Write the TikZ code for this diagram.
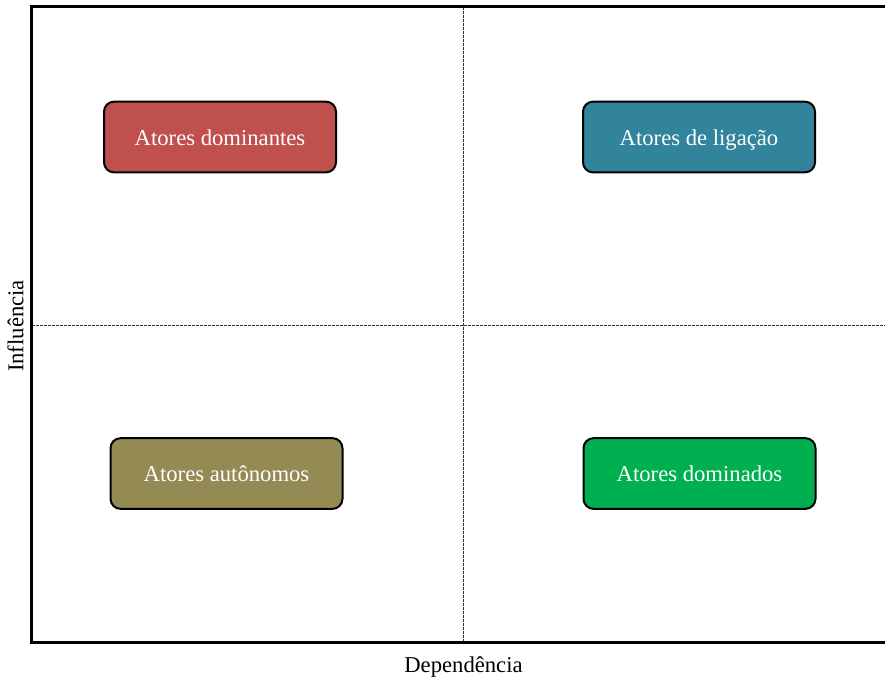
\documentclass[tikz,border=0pt]{standalone}
\usepackage{fontspec}
\setmainfont{Liberation Serif}

\definecolor{corDominantes}{HTML}{C0504D}
\definecolor{corLigacao}{HTML}{31849B}
\definecolor{corAutonomos}{HTML}{948A54}
\definecolor{corDominados}{HTML}{00B050}

\tikzset{every picture/.style={line width=0.75pt}}
\tikzset{
  ator/.style={draw=black, line width=1.5pt, rounded corners=7.5pt, minimum width=174pt, minimum height=53pt, text=white, font=\fontsize{17}{20}\selectfont, text height=14pt, text depth=2pt, inner sep=0.75pt},
  eixo/.style={font=\fontsize{17}{20}\selectfont, text height=11.5pt, text depth=3.5pt, inner sep=0.75pt},
  divisao/.style={line width=0.6pt, black!80, dash pattern=on 2.25pt off 0.75pt}
}

\begin{document}
\begin{tikzpicture}[x=0.75pt,y=0.75pt,yscale=-1,xscale=1]
\useasboundingbox (0,0) rectangle (885,679);

% Coordinates
\coordinate (topoEsq) at (31.5,6.5);
\coordinate (topoDir) at (885,6.5);
\coordinate (baseEsq) at (31.5,642.5);
\coordinate (baseDir) at (885,642.5);
\coordinate (meioTopo) at (463.5,6.5);
\coordinate (meioBase) at (463.5,642.5);
\coordinate (meioEsq) at (31.5,325);
\coordinate (meioDir) at (885,325);

% Quadrant dividers
\draw [divisao] (meioTopo) -- (meioBase);
\draw [divisao] (meioEsq) -- (meioDir);

% Frame
\draw [line width=2.2pt] (topoDir) -- (topoEsq) -- (baseEsq) -- (baseDir);

% Text Node
\node [ator, fill=corDominantes] (dominantes) at (220,137) {Atores dominantes};
% Text Node
\node [ator, fill=corLigacao] (ligacao) at (699,137) {Atores de ligação};
% Text Node
\node [ator, fill=corAutonomos] (autonomos) at (226.5,473.5) {Atores autônomos};
% Text Node
\node [ator, fill=corDominados] (dominados) at (699.5,473.5) {Atores dominados};

% Text Node
\node [eixo] (dependencia) at (463.5,667) {Dependência};
% Text Node
\node [eixo, rotate=90] (influencia) at (18,326) {Influência};
\end{tikzpicture}
\end{document}
